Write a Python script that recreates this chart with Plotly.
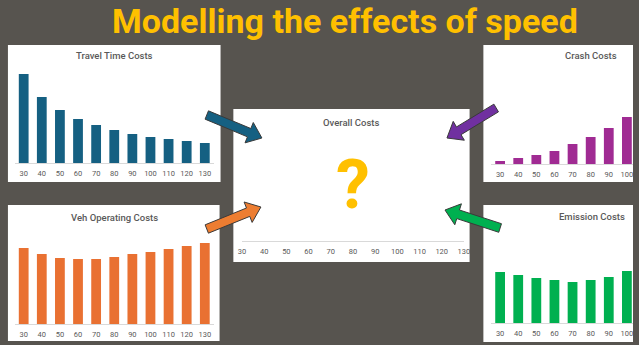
import plotly.graph_objects as go
import math

W, H = 639, 345

# ---------------- data ----------------
speeds = ["30", "40", "50", "60", "70", "80", "90", "100", "110", "120", "130"]
travel_time_costs = [89, 66, 53, 44, 38, 33, 29, 26, 24, 22, 20]
veh_operating_costs = [76, 70, 66, 65, 65, 67, 70, 72, 75, 78, 81]
crash_speeds = ["30", "40", "50", "60", "70", "80", "90", "100"]
crash_costs = [3, 6, 9, 13, 20, 27, 36, 47]
emission_speeds = ["30", "40", "50", "60", "70", "80", "90", "100"]
emission_costs = [51, 48, 45, 43, 41, 43, 46, 52]

title_text = "Modelling the effects of speed"
panel_titles = ["Travel Time Costs", "Veh Operating Costs", "Crash Costs",
                "Emission Costs", "Overall Costs"]

# ---------------- styles ----------------
BG = "#57544f"
GOLD = "#FFC000"
C_BLUE = "#156082"
C_ORANGE = "#E97132"
C_PURPLE = "#A02B93"
C_GREEN = "#00B050"
A_BLUE = "#156082"
A_ORANGE = "#ED7D31"
A_PURPLE = "#7030A0"
A_GREEN = "#00B050"
TXT = "#595959"


def fx(x):
    return x / W


def fy(y):
    return 1 - y / H


fig = go.Figure()

# panels: (x0, y0, x1, y1) in pixels
panels = [
    (4, 45, 220, 182),
    (4, 205, 219, 341),
    (487, 45, 645, 182),
    (487, 205, 645, 342),
    (233, 109, 473, 262),
]
for (x0, y0, x1, y1) in panels:
    fig.add_shape(type="rect", xref="paper", yref="paper",
                  x0=fx(x0), x1=fx(min(x1, W)), y0=fy(y1), y1=fy(y0),
                  fillcolor="white", line=dict(width=0), layer="below")

step = 18.4
# axis specs: x-domain px, baseline py, top py, x-range
axes = {
    "": dict(xd=(20 - step / 2, 20 + 10.5 * step), base=163, top=68, xr=None),
    "2": dict(xd=(20 - step / 2, 20 + 10.5 * step), base=324, top=229, xr=None),
    "3": dict(xd=(504 - step / 2, W), base=164, top=69,
              xr=[-0.5, (W - (504 - step / 2)) / step - 0.5]),
    "4": dict(xd=(504 - step / 2, W), base=323, top=228,
              xr=[-0.5, (W - (504 - step / 2)) / step - 0.5]),
    "5": dict(xd=(252 - 10.25, 457 + 10.25), base=241, top=140, xr=None),
}

traces = [
    ("", speeds, travel_time_costs, C_BLUE),
    ("2", speeds, veh_operating_costs, C_ORANGE),
    ("3", crash_speeds, crash_costs, C_PURPLE),
    ("4", emission_speeds, emission_costs, C_GREEN),
]
for suf, xs, ys, col in traces:
    fig.add_trace(go.Bar(x=xs, y=ys, marker=dict(color=col, line=dict(width=0)),
                         xaxis="x" + suf, yaxis="y" + suf, showlegend=False,
                         hoverinfo="skip"))
# overall chart: values unknown ("?")
fig.add_trace(go.Scatter(x=speeds, y=[None] * len(speeds), mode="lines",
                         xaxis="x5", yaxis="y5", showlegend=False, hoverinfo="skip"))

tickfont = dict(family="Roboto", size=7.5, color=TXT)
for suf, a in axes.items():
    xa = dict(domain=[fx(a["xd"][0]), fx(a["xd"][1])], anchor="y" + suf,
              type="category", showline=True, linecolor="#d9d9d9", linewidth=1,
              showgrid=False, zeroline=False, ticks="", tickfont=tickfont,
              ticklabelstandoff=3, fixedrange=True)
    if a["xr"] is not None:
        xa["range"] = a["xr"]
    ya = dict(domain=[fy(a["base"]), fy(a["top"])], anchor="x" + suf,
              range=[0, 95], visible=False, showgrid=False, zeroline=False,
              fixedrange=True)
    fig.layout["xaxis" + suf] = xa
    fig.layout["yaxis" + suf] = ya

# panel titles
title_pos = [(112, 56), (112, 217), (596, 56), (597, 216), (353, 122)]
annotations = []
for t, (x, y) in zip(panel_titles, title_pos):
    annotations.append(dict(text=t, x=fx(x), y=fy(y), xref="paper", yref="paper",
                            showarrow=False, xanchor="center", yanchor="middle",
                            font=dict(family="Roboto", size=9.5, color=TXT, weight=500)))
annotations.append(dict(text="?", x=fx(355), y=fy(185), xref="paper", yref="paper",
                        showarrow=False, xanchor="center", yanchor="middle",
                        font=dict(family="Roboto", size=68, color=GOLD, weight=700)))
annotations.append(dict(text=title_text, x=fx(346), y=1, xref="paper", yref="paper",
                        showarrow=False, xanchor="center", yanchor="top", borderpad=0,
                        font=dict(family="Roboto", size=34, color=GOLD, weight=700)))


def block_arrow(tail, tip, shaft_w=9, head_w=22, head_len=14):
    (x0, y0), (x1, y1) = tail, tip
    dx, dy = x1 - x0, y1 - y0
    L = math.hypot(dx, dy)
    ux, uy = dx / L, dy / L
    nx, ny = -uy, ux
    bx, by = x1 - ux * head_len, y1 - uy * head_len
    pts = [
        (x0 + nx * shaft_w / 2, y0 + ny * shaft_w / 2),
        (bx + nx * shaft_w / 2, by + ny * shaft_w / 2),
        (bx + nx * head_w / 2, by + ny * head_w / 2),
        (x1, y1),
        (bx - nx * head_w / 2, by - ny * head_w / 2),
        (bx - nx * shaft_w / 2, by - ny * shaft_w / 2),
        (x0 - nx * shaft_w / 2, y0 - ny * shaft_w / 2),
    ]
    return "M " + " L ".join(f"{fx(px):.5f},{fy(py):.5f}" for px, py in pts) + " Z"


arrows = [
    ((206, 115), (262, 138), A_BLUE),
    ((206, 229), (261, 207), A_ORANGE),
    ((500, 108), (450, 138), A_PURPLE),
    ((504, 228), (448, 210), A_GREEN),
]
for tail, tip, col in arrows:
    fig.add_shape(type="path", xref="paper", yref="paper", path=block_arrow(tail, tip),
                  fillcolor=col, line=dict(color="#3a3a3a", width=1), layer="above")

fig.update_layout(
    width=W, height=H, margin=dict(l=0, r=0, t=0, b=0),
    paper_bgcolor=BG, plot_bgcolor="rgba(0,0,0,0)",
    bargap=0.46, annotations=annotations,
)

fig.write_html("out.html", config={"displayModeBar": False})
